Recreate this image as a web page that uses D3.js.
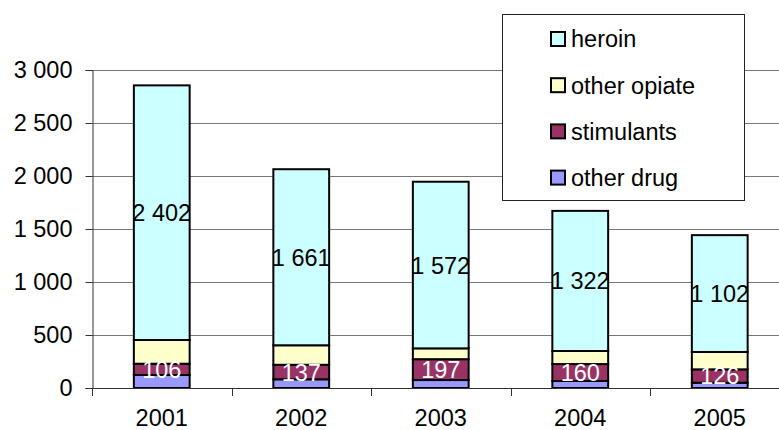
<!DOCTYPE html>
<html>
<head>
<meta charset="utf-8">
<script src="https://cdn.jsdelivr.net/npm/d3@7"></script>
<style>
  body { margin: 0; background: #fff; }
  text { font-family: "Liberation Sans", Arial, sans-serif; }
</style>
</head>
<body>
<script>
// categories and series (stack order bottom -> top)
var years = ["2001", "2002", "2003", "2004", "2005"];
var otherDrug   = [123, 82, 75, 66, 50];
var stimulants  = [106, 137, 197, 160, 126];
var otherOpiate = [224, 184, 102, 123, 164];
var heroin      = [2402, 1661, 1572, 1322, 1102];
var yTicks = [0, 500, 1000, 1500, 2000, 2500, 3000];

var seriesNames = ["other drug", "stimulants", "other opiate", "heroin"];
var seriesColors = ["#9999FF", "#993366", "#FFFFCC", "#CCFFFF"];
// which series get a value label, and its colour
var labelColors = [null, "#FFFFFF", null, "#000000"];

window.onload = function(){
    var w = 779, h = 430;
    var fs = "23.5px";

    var svg = d3.select("body").append("svg")
        .attr("width", w)
        .attr("height", h);

    // build rows for d3.stack from the arrays
    var rows = years.map(function(y, i){
        return {
            year: y,
            "other drug": otherDrug[i],
            "stimulants": stimulants[i],
            "other opiate": otherOpiate[i],
            "heroin": heroin[i]
        };
    });
    var stacked = d3.stack().keys(seriesNames)(rows);

    var x = d3.scaleBand()
        .domain(years)
        .range([92, 92 + 139.5 * years.length])
        .paddingInner(0.6)
        .paddingOuter(0.3);

    var y = d3.scaleLinear()
        .domain([0, 3000])
        .range([388, 70]);

    var fmt = function(v){ return d3.format(",")(v).replace(/,/g, " "); };

    // gridlines
    svg.append("g").attr("class", "grid")
        .selectAll("line")
        .data(yTicks.filter(function(d){ return d > 0; }))
        .enter().append("line")
        .attr("x1", 92).attr("x2", w)
        .attr("y1", function(d){ return Math.round(y(d)) + 0.5; })
        .attr("y2", function(d){ return Math.round(y(d)) + 0.5; })
        .style("stroke", "#777")
        .style("stroke-width", 1);

    // y axis
    var yAxis = d3.axisLeft(y)
        .tickValues(yTicks)
        .tickSize(7)
        .tickPadding(13)
        .tickFormat(fmt);
    var gy = svg.append("g")
        .attr("transform", "translate(92.5,0)")
        .call(yAxis);
    gy.select(".domain").attr("stroke", "#333");
    gy.selectAll(".tick line").attr("stroke", "#333");
    gy.selectAll("text")
        .style("font-size", fs)
        .style("font-family", "Liberation Sans, Arial, sans-serif")
        .attr("fill", "#000");

    // bars
    var layers = svg.selectAll(".layer")
        .data(stacked)
        .enter().append("g")
        .attr("class", "layer")
        .style("fill", function(d, i){ return seriesColors[i]; });

    layers.selectAll("rect")
        .data(function(d){ return d; })
        .enter().append("rect")
        .attr("x", function(d){ return x(d.data.year); })
        .attr("y", function(d){ return y(d[1]); })
        .attr("width", x.bandwidth())
        .attr("height", function(d){ return y(d[0]) - y(d[1]); })
        .style("stroke", "#000")
        .style("stroke-width", 2);

    // value labels
    stacked.forEach(function(s, si){
        if (!labelColors[si]) return;
        svg.append("g").selectAll("text")
            .data(s)
            .enter().append("text")
            .attr("x", function(d){ return x(d.data.year) + x.bandwidth() / 2; })
            .attr("y", function(d){ return (y(d[0]) + y(d[1])) / 2; })
            .attr("dy", "0.36em")
            .attr("text-anchor", "middle")
            .style("font-size", fs)
            .style("fill", labelColors[si])
            .text(function(d){ return fmt(d[1] - d[0]); });
    });

    // x axis
    var xAxis = d3.axisBottom(x).tickSize(0).tickPadding(21);
    var gx = svg.append("g")
        .attr("transform", "translate(0,388.5)")
        .call(xAxis);
    gx.select(".domain").remove();
    gx.selectAll("text")
        .style("font-size", fs)
        .style("font-family", "Liberation Sans, Arial, sans-serif")
        .attr("fill", "#000");
    svg.append("line")
        .attr("x1", 92).attr("x2", w)
        .attr("y1", 388.5).attr("y2", 388.5)
        .style("stroke", "#333");
    // category separator ticks
    svg.append("g").selectAll("line")
        .data(d3.range(years.length + 1))
        .enter().append("line")
        .attr("x1", function(i){ return Math.round(92 + i * 139.5) + 0.5; })
        .attr("x2", function(i){ return Math.round(92 + i * 139.5) + 0.5; })
        .attr("y1", 388).attr("y2", 396)
        .style("stroke", "#333");

    // legend
    var legend = svg.append("g").attr("class", "legend");
    legend.append("rect")
        .attr("x", 502.5).attr("y", 14.5)
        .attr("width", 242).attr("height", 186)
        .style("fill", "#fff")
        .style("stroke", "#222");
    var legendOrder = seriesNames.slice().reverse();
    var items = legend.selectAll(".item")
        .data(legendOrder)
        .enter().append("g")
        .attr("class", "item")
        .attr("transform", function(d, i){ return "translate(0," + (38 + i * 46.2) + ")"; });
    items.append("rect")
        .attr("x", 551).attr("y", -6)
        .attr("width", 14).attr("height", 14)
        .style("fill", function(d){ return seriesColors[seriesNames.indexOf(d)]; })
        .style("stroke", "#000")
        .style("stroke-width", 2);
    items.append("text")
        .attr("x", 571).attr("y", 1)
        .attr("dy", "0.36em")
        .style("font-size", fs)
        .text(function(d){ return d; });
};
</script>
</body>
</html>
